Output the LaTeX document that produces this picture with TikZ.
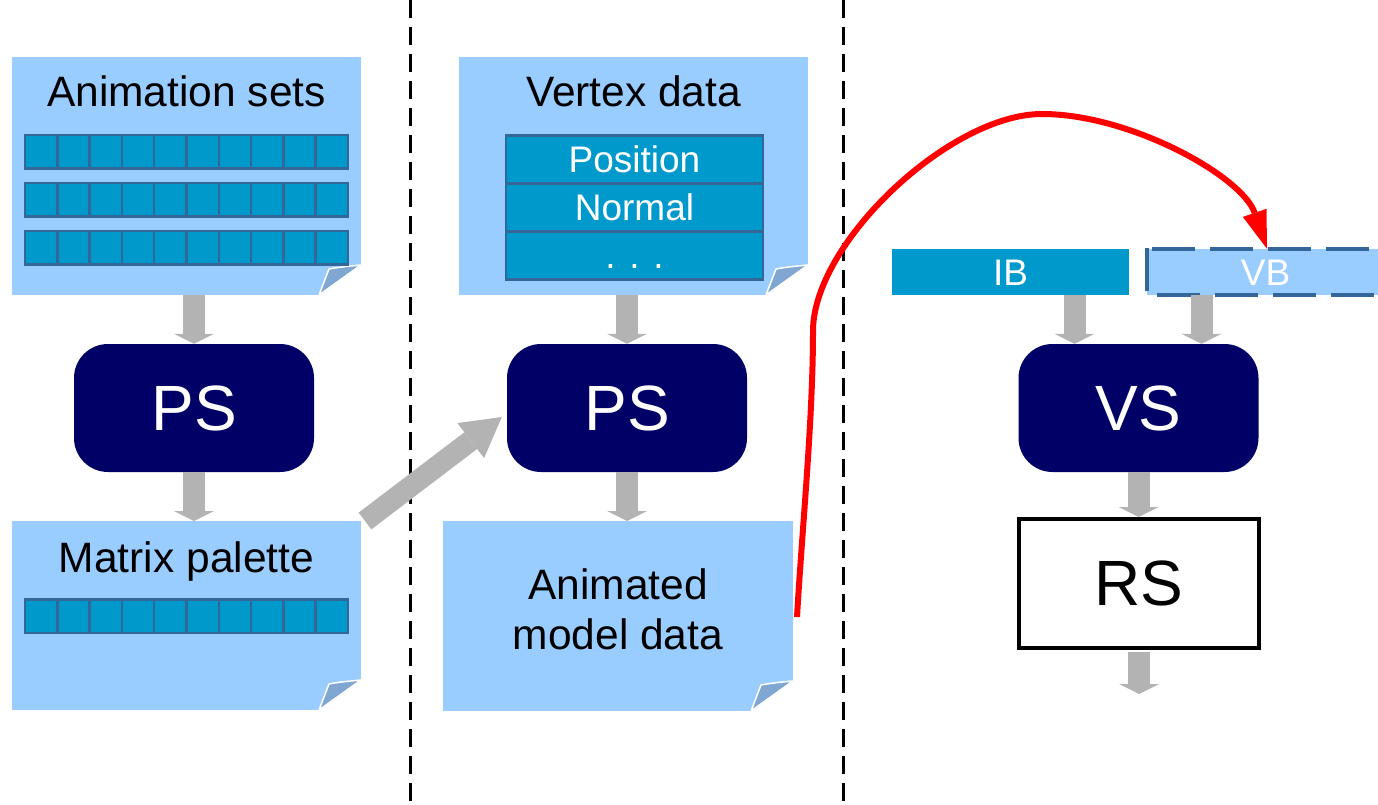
\documentclass[tikz,border=0pt]{standalone}
\usepackage{fontspec}
\setmainfont{Liberation Sans}
\usetikzlibrary{arrows.meta,calc}

\definecolor{docblue}{HTML}{99CCFF}
\definecolor{cellblue}{HTML}{0099CC}
\definecolor{cellline}{HTML}{336699}
\definecolor{navy}{HTML}{000066}
\definecolor{flow}{HTML}{B3B3B3}
\definecolor{foldblue}{HTML}{7FA7D2}

% dog-eared bottom right corner of a document node
\newcommand\docfold[1]{%
  \fill[white] ($(#1.south east)+(-42,1)$) -- ($(#1.south east)+(1,-30)$) -- ($(#1.south east)+(1,1)$) -- cycle;
  \filldraw[fill=foldblue, draw=white, line width=1.5pt, line join=round]
    ($(#1.south east)+(-42,0)$) -- ($(#1.south east)+(-32,-26)$)
    .. controls ($(#1.south east)+(-22,-28)$) and ($(#1.south east)+(-10,-29)$) ..
    ($(#1.south east)+(0,-30)$) -- cycle;
}

\begin{document}
\begin{tikzpicture}[x=1pt,y=-1pt,
  docbox/.style={fill=docblue, inner sep=0pt, outer sep=0pt},
  shader/.style={fill=navy, rounded corners=34pt, text=white, inner sep=0pt,
    minimum width=240pt, minimum height=128pt, font=\fontsize{64}{70}\selectfont},
  title/.style={anchor=base, font=\fontsize{42.5}{50}\selectfont},
  flowarrow/.style={draw=flow, line width=22pt,
    -{Triangle[length=10pt,width=40pt,line width=0pt]}},
  cellbox/.style={fill=cellblue, draw=cellline, line width=2.5pt},
  vrow/.style={cellbox, minimum width=257pt, minimum height=48pt, inner sep=0pt,
    outer sep=0pt, text=white, text height=26.5pt, text depth=0pt,
    font=\fontsize{37}{42}\selectfont},
  bufbox/.style={minimum width=237pt, minimum height=46pt, inner sep=0pt,
    text=white, text height=26.5pt, text depth=0pt, font=\fontsize{37}{42}\selectfont},
  divider/.style={black, line width=3pt, dash pattern=on 18pt off 9pt},
  redflow/.style={draw=red, line width=6pt,
    -{Triangle[length=38pt,width=25pt,line width=0pt]}},
]
\useasboundingbox (0,0) rectangle (1378,805);
\clip (0,0) rectangle (1378,805);
\fill[white] (0,0) rectangle (1378,805);

% column dividers
\draw[divider] (410,0) -- (410,805);
\draw[divider] (843,0) -- (843,805);

% ---------- left column ----------
\node[docbox, minimum width=349pt, minimum height=238pt] (anim) at (186.5,176) {};
\docfold{anim}
\node[title] (animtitle) at ($(anim.north)+(0,50)$) {Animation sets};
\foreach \ry in {135,183,231}
  \foreach \i in {0,...,9}
    \draw[cellbox] ({25+32.3*\i},\ry) rectangle ++(32.3,33.5);

\node[shader] (ps1) at (194,408) {PS};

\node[docbox, minimum width=349pt, minimum height=189pt] (mat) at (186.5,615.5) {};
\docfold{mat}
\node[title] (mattitle) at ($(mat.north)+(0,51)$) {Matrix palette};
\foreach \i in {0,...,9}
  \draw[cellbox] ({25+32.3*\i},599.5) rectangle ++(32.3,33.5);

\draw[flowarrow] (ps1.north |- anim.south) -- (ps1.north);
\draw[flowarrow] (ps1.south) -- (ps1.south |- mat.north);

% ---------- middle column ----------
\node[docbox, minimum width=349pt, minimum height=238pt] (vert) at (633.5,176) {};
\docfold{vert}
\node[title] (verttitle) at ($(vert.north)+(0,50)$) {Vertex data};
\node[vrow] (pos) at (634.5,159.5) {Position};
\node[vrow, anchor=north] (nrm) at (pos.south) {Normal};
\node[vrow, anchor=north] (more) at (nrm.south) {. . .};

\node[shader] (ps2) at (627,408) {PS};

\node[docbox, minimum width=350pt, minimum height=190pt] (amd) at (618,616) {};
\docfold{amd}
\node[align=center, font=\fontsize{42.5}{50}\selectfont] (amdtext) at ($(amd.center)+(0,-7)$) {Animated\\model data};

\draw[flowarrow] (ps2.north |- vert.south) -- (ps2.north);
\draw[flowarrow] (ps2.south) -- (ps2.south |- amd.north);
\draw[flowarrow, line width=21pt, -{Triangle[length=39pt,width=44pt,line width=0pt]}]
  ($(mat.north east)+(4,0)$) -- ($(ps2.west)+(-5,9)$);

% ---------- right column ----------
\node[bufbox, fill=cellblue] (ib) at (1010.5,272) {IB};
\node[bufbox, fill=docblue] (vb) at (1265.5,272) {VB};
\draw[cellline, line width=4pt] ($(vb.south west)+(0,-4)$) -- ($(vb.north west)+(0,-1)$);
\draw[cellline, line width=4pt, dash pattern=on 43pt off 15pt]
  ($(vb.north west)+(5,0)$) -- ($(vb.north east)+(10,0)$);
\draw[cellline, line width=4pt, dash pattern=on 43pt off 15pt]
  ($(vb.south west)+(10,0)$) -- ($(vb.south east)+(10,0)$);

\node[shader] (vs) at (1138.5,408) {VS};
\node[draw=black, line width=4pt, minimum width=240pt, minimum height=129pt,
  inner sep=0pt, font=\fontsize{64}{70}\selectfont] (rs) at (1139,583.5) {RS};

\coordinate (vsinL) at ($(vs.north)+(-64,0)$);
\coordinate (vsinR) at ($(vs.north)+(63,0)$);
\coordinate (rsout) at ($(rs.south)+(0,44)$);
\draw[flowarrow] (vsinL |- ib.south) -- (vsinL);
\draw[flowarrow] (vsinR |- vb.south) -- (vsinR);
\draw[flowarrow] (vs.south) -- (vs.south |- rs.north);
\draw[flowarrow] ($(rs.south)+(0,2)$) -- (rsout);

% result of the animation pass feeds the vertex buffer
\draw[redflow] ($(amd.east)+(4,1)$)
  .. controls (802,530) and (813,420) .. (813,331)
  .. controls (813,243) and (950,114) .. (1042,114)
  .. controls (1130,114) and (1242,176) .. ($(vb.north)+(1.5,0)$);
\end{tikzpicture}
\end{document}
